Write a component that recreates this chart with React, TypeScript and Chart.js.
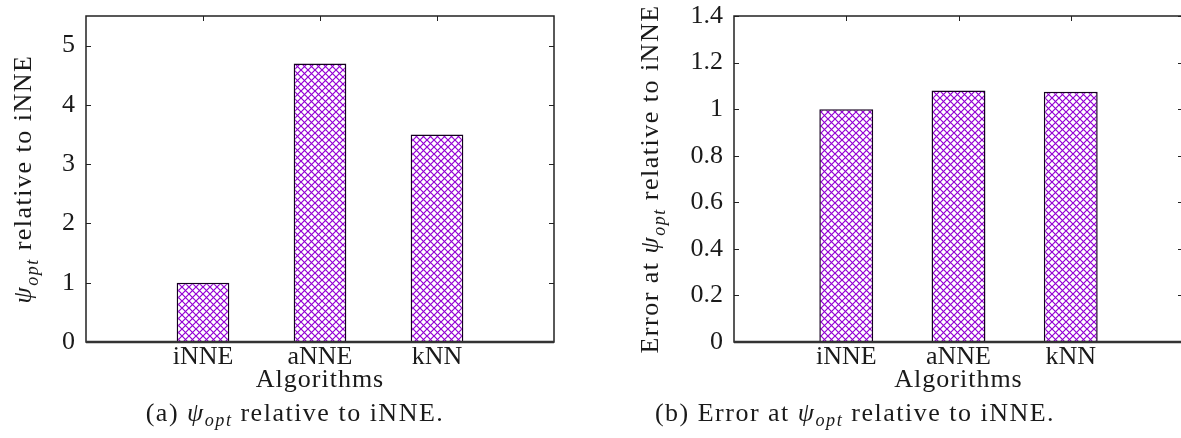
import React, { useEffect, useRef } from 'react';
import { Chart, registerables } from 'chart.js';

Chart.register(...registerables);

// ---------- data ----------
const categories = ['iNNE', 'aNNE', 'kNN'];
const psiOptRelative = [1.0, 4.7, 3.5];
const errorRelative = [1.0, 1.08, 1.075];
const leftYTicks = [0, 1, 2, 3, 4, 5];
const rightYTicks = [0, 0.2, 0.4, 0.6, 0.8, 1.0, 1.2, 1.4];
const xAxisTitle = 'Algorithms';

const FONT = '"Liberation Serif", "Times New Roman", serif';
const TEXT = '#1a1a1a';
const HATCH = '#9400d3';
const TITLE_SIZE = 26;
const TICK_SIZE = 26;

type Seg = { t: string; italic?: boolean; sub?: boolean };

const leftYTitle: Seg[] = [
  { t: 'ψ', italic: true },
  { t: 'opt', italic: true, sub: true },
  { t: ' relative to iNNE' },
];
const rightYTitle: Seg[] = [
  { t: 'Error at ' },
  { t: 'ψ', italic: true },
  { t: 'opt', italic: true, sub: true },
  { t: ' relative to iNNE' },
];

function makeHatch(): CanvasPattern | string {
  const c = document.createElement('canvas');
  const p = 7;
  c.width = p;
  c.height = p;
  const g = c.getContext('2d');
  if (!g) return '#fff';
  g.fillStyle = '#ffffff';
  g.fillRect(0, 0, p, p);
  g.strokeStyle = HATCH;
  g.lineWidth = 1.2;
  g.beginPath();
  g.moveTo(-1, -1);
  g.lineTo(p + 1, p + 1);
  g.moveTo(p + 1, -1);
  g.lineTo(-1, p + 1);
  g.stroke();
  return g.createPattern(c, 'repeat') || '#fff';
}

function segFont(s: Seg, size: number) {
  const sz = s.sub ? Math.round(size * 0.7) : size;
  return `${s.italic ? 'italic ' : ''}${sz}px ${FONT}`;
}

function drawRich(ctx: CanvasRenderingContext2D, segs: Seg[], cx: number, baseY: number, size: number) {
  const anyCtx = ctx as any;
  anyCtx.letterSpacing = '1.5px';
  let total = 0;
  for (const s of segs) {
    ctx.font = segFont(s, size);
    total += ctx.measureText(s.t).width;
  }
  let x = cx - total / 2;
  ctx.textAlign = 'left';
  ctx.textBaseline = 'alphabetic';
  for (const s of segs) {
    ctx.font = segFont(s, size);
    ctx.fillText(s.t, x, baseY + (s.sub ? size * 0.25 : 0));
    x += ctx.measureText(s.t).width;
  }
  anyCtx.letterSpacing = '0px';
}

function fmt(v: number) {
  return String(Number(v.toFixed(2)));
}

type FrameOpts = { yTitle: Seg[]; yTitleBaseX: number; xTitleOffset: number };

const framePlugin = {
  id: 'gnuFrame',
  beforeDatasetsDraw(chart: any) {
    const { ctx, chartArea } = chart;
    const { left, right, top, bottom } = chartArea;
    const ys = chart.scales.y;
    const xs = chart.scales.x;
    ctx.save();
    ctx.strokeStyle = '#222';
    ctx.lineWidth = 1;
    const tl = 5;
    ctx.beginPath();
    for (const t of ys.ticks) {
      const py = Math.round(ys.getPixelForValue(t.value)) + 0.5;
      ctx.moveTo(left, py);
      ctx.lineTo(left + tl, py);
      ctx.moveTo(right, py);
      ctx.lineTo(right - tl, py);
    }
    for (const t of xs.ticks) {
      const px = Math.round(xs.getPixelForValue(t.value)) + 0.5;
      ctx.moveTo(px, top);
      ctx.lineTo(px, top + tl);
      ctx.moveTo(px, bottom);
      ctx.lineTo(px, bottom - tl);
    }
    ctx.stroke();
    ctx.restore();
  },
  afterDraw(chart: any, _a: any, opts: FrameOpts) {
    const { ctx, chartArea } = chart;
    const { left, right, top, bottom } = chartArea;
    ctx.save();
    ctx.strokeStyle = '#222';
    ctx.lineWidth = 1.5;
    ctx.strokeRect(left, top, right - left, bottom - top);
    ctx.lineWidth = 2.5;
    ctx.strokeStyle = '#333';
    ctx.beginPath();
    ctx.moveTo(left, bottom);
    ctx.lineTo(right, bottom);
    ctx.stroke();
    // x-axis title
    ctx.fillStyle = TEXT;
    ctx.font = `${TITLE_SIZE}px ${FONT}`;
    (ctx as any).letterSpacing = '1px';
    ctx.textAlign = 'center';
    ctx.textBaseline = 'alphabetic';
    ctx.fillText(xAxisTitle, (left + right) / 2, bottom + opts.xTitleOffset);
    (ctx as any).letterSpacing = '0px';
    // y-axis title (rotated)
    ctx.translate(opts.yTitleBaseX, (top + bottom) / 2);
    ctx.rotate(-Math.PI / 2);
    drawRich(ctx, opts.yTitle, 0, 0, TITLE_SIZE);
    ctx.restore();
  },
};

function makeConfig(values: number[], yMax: number, yTicks: number[], yWidth: number, padRight: number, barPct: number, frame: FrameOpts): any {
  const pattern = makeHatch();
  return {
    type: 'bar',
    data: {
      datasets: [
        {
          data: values.map((v, i) => ({ x: i, y: v })),
          backgroundColor: pattern,
          borderColor: '#14001f',
          borderWidth: 1.5,
          barPercentage: barPct,
          categoryPercentage: 1,
        },
      ],
    },
    plugins: [framePlugin],
    options: {
      animation: false,
      responsive: false,
      maintainAspectRatio: false,
      layout: { padding: { left: 0, right: padRight, top: 16, bottom: 0 } },
      plugins: {
        legend: { display: false },
        tooltip: { enabled: false },
        gnuFrame: frame,
      },
      scales: {
        x: {
          type: 'linear',
          min: -1,
          max: 3,
          offset: false,
          grid: { display: false, drawTicks: false },
          border: { display: false },
          afterBuildTicks: (s: any) => {
            s.ticks = categories.map((_, i) => ({ value: i }));
          },
          ticks: {
            callback: (v: number) => categories[v] ?? '',
            font: { family: FONT, size: TICK_SIZE },
            color: TEXT,
            padding: 0,
            maxRotation: 0,
            autoSkip: false,
          },
          afterFit: (s: any) => {
            s.height = 96;
          },
        },
        y: {
          min: 0,
          max: yMax,
          grid: {
            display: true,
            drawOnChartArea: false,
            drawTicks: true,
            tickLength: 11,
            color: 'rgba(0,0,0,0)',
          },
          border: { display: false },
          afterBuildTicks: (s: any) => {
            s.ticks = yTicks.map((v) => ({ value: v }));
          },
          ticks: {
            callback: (v: number) => fmt(v),
            font: { family: FONT, size: TICK_SIZE },
            color: TEXT,
            padding: 0,
          },
          afterFit: (s: any) => {
            s.width = yWidth;
          },
        },
      },
    },
  };
}

function Panel(props: { cfg: () => any; left: number; width: number }) {
  const ref = useRef<HTMLCanvasElement>(null);
  useEffect(() => {
    if (!ref.current) return;
    const chart = new Chart(ref.current, props.cfg());
    return () => chart.destroy();
  }, []);
  return (
    <canvas
      ref={ref}
      width={props.width}
      height={438}
      style={{ position: 'absolute', left: props.left, top: 0, width: props.width, height: 438 }}
    />
  );
}

const capStyle: React.CSSProperties = {
  position: 'absolute',
  top: 400,
  textAlign: 'center',
  fontFamily: FONT,
  fontSize: 26,
  lineHeight: '25px',
  letterSpacing: '1.5px',
  color: TEXT,
  whiteSpace: 'nowrap',
};
const subStyle: React.CSSProperties = { fontSize: '0.7em', verticalAlign: '-0.25em', lineHeight: 0 };

export default function App() {
  return (
    <div style={{ position: 'fixed', left: 0, top: 0, width: 1181, height: 438, overflow: 'hidden', background: '#fff' }}>
      <Panel
        left={0}
        width={590}
        cfg={() =>
          makeConfig(psiOptRelative, 5.5, leftYTicks, 86, 36, 0.45, {
            yTitle: leftYTitle,
            yTitleBaseX: 31,
            xTitleOffset: 45,
          })
        }
      />
      <Panel
        left={590}
        width={620}
        cfg={() =>
          makeConfig(errorRelative, 1.4, rightYTicks, 144, 27, 0.48, {
            yTitle: rightYTitle,
            yTitleBaseX: 68,
            xTitleOffset: 45,
          })
        }
      />
      <div style={{ ...capStyle, left: 95, width: 400 }}>
        (a) <i>ψ<sub style={subStyle}>opt</sub></i> relative to iNNE.
      </div>
      <div style={{ ...capStyle, left: 605, width: 500 }}>
        (b) Error at <i>ψ<sub style={subStyle}>opt</sub></i> relative to iNNE.
      </div>
    </div>
  );
}
